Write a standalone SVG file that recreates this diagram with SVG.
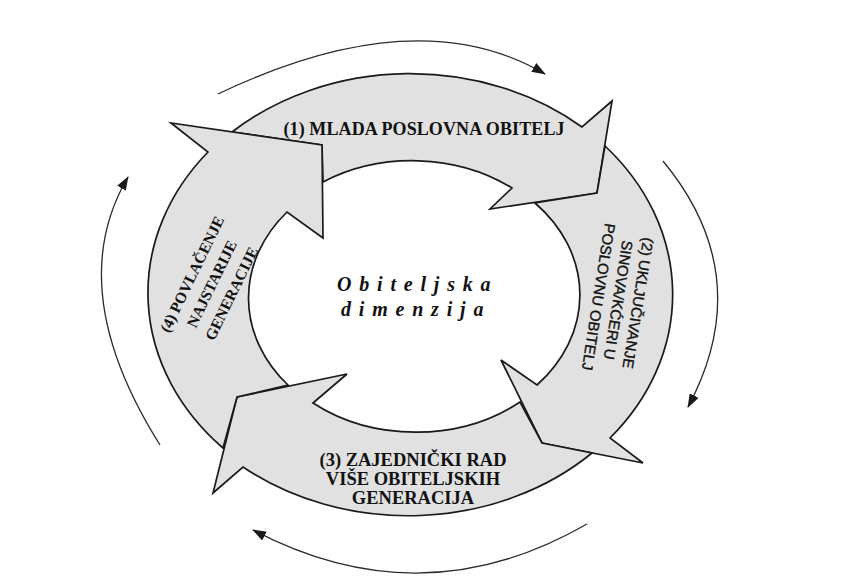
<svg xmlns="http://www.w3.org/2000/svg" width="862" height="588" viewBox="0 0 862 588">
<defs>
<marker id="ah" viewBox="0 0 14 10" refX="13" refY="5" markerWidth="14" markerHeight="10" markerUnits="userSpaceOnUse" orient="auto">
<path d="M0,0 L14,5 L0,10 Z" fill="#1a1a1a"/>
</marker>
<style>
.band{fill:#e1e1e1;stroke:#1a1a1a;stroke-width:1.7;stroke-linejoin:miter}
.flow{fill:none;stroke:#2a2a2a;stroke-width:1.3}
.lbl{font-family:"Liberation Serif","Times New Roman",serif;font-weight:bold;fill:#111}
.lbl2{font-family:"Liberation Sans Narrow","Liberation Sans",Arial,sans-serif;fill:#111;stroke:#111;stroke-width:0.35}
.ctr{font-family:"Liberation Serif","Times New Roman",serif;font-weight:bold;font-style:italic;fill:#111;font-size:20px;letter-spacing:7.8px}
</style>
</defs>
<rect width="862" height="588" fill="#ffffff"/>
<g id="connectors">
<path class="flow" d="M218,94 Q417,-1 545,74" marker-end="url(#ah)"/>
<path class="flow" d="M663,161 Q758,276 688,407" marker-end="url(#ah)"/>
<path class="flow" d="M587,524 Q422,619 253,530" marker-end="url(#ah)"/>
<path class="flow" d="M160,445 Q62,289 128,177" marker-end="url(#ah)"/>
</g>
<g id="stage1">
<path class="band" d="M232,132 A264,222 0 0 1 582,127 L612,101 L597,193 L490,209 L512,188 A165,134 0 0 0 323,182 L322,145 Z"/>
<text class="lbl" x="424" y="135" font-size="18" text-anchor="middle" textLength="281" lengthAdjust="spacing">(1) MLADA POSLOVNA OBITELJ</text>
</g>
<g id="stage2">
<path class="band" d="M605,146 A264,222 0 0 1 610,438 L643,463 L542,443 L501,360 L537,385 A165,134 0 0 0 535,203 L597,193 Z"/>
<g transform="translate(618,300) rotate(99)">
<text class="lbl2" x="0" y="-15" font-size="15" text-anchor="middle">(2) UKLJUČIVANJE</text>
<text class="lbl2" x="0" y="5" font-size="15" text-anchor="middle">SINOVA/KĆERI U</text>
<text class="lbl2" x="0" y="25" font-size="15" text-anchor="middle">POSLOVNU OBITELJ</text>
</g>
</g>
<g id="stage3">
<path class="band" d="M592,453 A264,222 0 0 1 243,467 L213,493 L237,397 L347,374 L313,403 A165,134 0 0 0 520,402 L542,443 Z"/>
<text class="lbl" x="413" y="466" font-size="18.5" text-anchor="middle">(3) ZAJEDNIČKI RAD</text>
<text class="lbl" x="413" y="485" font-size="18.5" text-anchor="middle">VIŠE OBITELJSKIH</text>
<text class="lbl" x="413" y="504" font-size="18.5" text-anchor="middle">GENERACIJA</text>
</g>
<g id="stage4">
<path class="band" d="M223,448 A264,222 0 0 1 208,152 L171,123 L322,145 L323,238 L287,212 A165,134 0 0 0 288,385 L237,397 Z"/>
<g transform="translate(212,284) rotate(-64)">
<text class="lbl" x="0" y="-17" font-size="15.5" text-anchor="middle">(4) POVLAČENJE</text>
<text class="lbl" x="0" y="5" font-size="15.5" text-anchor="middle">NAJSTARIJE</text>
<text class="lbl" x="0" y="27" font-size="15.5" text-anchor="middle">GENERACIJE</text>
</g>
</g>
<g id="center">
<text class="ctr" x="337" y="291">Obiteljska</text>
<text class="ctr" x="341" y="316">dimenzija</text>
</g>
</svg>
